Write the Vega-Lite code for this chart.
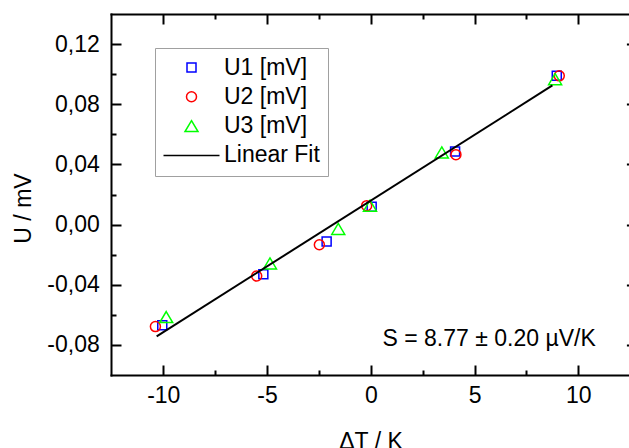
{
  "$schema": "https://vega.github.io/schema/vega-lite/v6.json",
  "width": 518,
  "height": 361,
  "autosize": "none",
  "padding": {"left": 111, "top": 14, "right": 0, "bottom": 73},
  "background": "white",
  "config": {
    "view": {"stroke": null},
    "font": "Liberation Sans",
    "axis": {
      "grid": false,
      "domainColor": "black",
      "domainWidth": 2,
      "domainCap": "square",
      "tickColor": "black",
      "tickWidth": 2,
      "labelFont": "Liberation Sans",
      "labelFontSize": 23,
      "labelColor": "black",
      "titleFont": "Liberation Sans",
      "titleFontSize": 23,
      "titleFontWeight": "normal",
      "titleColor": "black",
      "labelFlush": false,
      "labelOverlap": false
    },
    "legend": {
      "orient": "none",
      "legendX": 44,
      "legendY": 34,
      "title": null,
      "labelFont": "Liberation Sans",
      "labelFontSize": 23,
      "labelColor": "black",
      "symbolSize": 100,
      "symbolStrokeWidth": 1.5,
      "symbolOffset": 17,
      "labelOffset": 21,
      "rowPadding": 5.3,
      "padding": 8,
      "strokeColor": "#a0a0a0",
      "strokeWidth": 1,
      "fillColor": "white"
    }
  },
  "datasets": {
    "pts": [
      {"series": "U1 [mV]", "dT": -10.05, "U": -0.0670},
      {"series": "U1 [mV]", "dT": -5.18, "U": -0.0331},
      {"series": "U1 [mV]", "dT": -2.13, "U": -0.0112},
      {"series": "U1 [mV]", "dT": 0.04, "U": 0.0119},
      {"series": "U1 [mV]", "dT": 4.06, "U": 0.0486},
      {"series": "U1 [mV]", "dT": 8.96, "U": 0.0989},
      {"series": "U2 [mV]", "dT": -10.38, "U": -0.0678},
      {"series": "U2 [mV]", "dT": -5.50, "U": -0.0342},
      {"series": "U2 [mV]", "dT": -2.48, "U": -0.0134},
      {"series": "U2 [mV]", "dT": -0.20, "U": 0.0126},
      {"series": "U2 [mV]", "dT": 4.10, "U": 0.0465},
      {"series": "U2 [mV]", "dT": 9.08, "U": 0.0989},
      {"series": "U3 [mV]", "dT": -9.86, "U": -0.0615},
      {"series": "U3 [mV]", "dT": -4.86, "U": -0.0258},
      {"series": "U3 [mV]", "dT": -1.57, "U": -0.0029},
      {"series": "U3 [mV]", "dT": -0.04, "U": 0.0126},
      {"series": "U3 [mV]", "dT": 3.42, "U": 0.0480},
      {"series": "U3 [mV]", "dT": 8.88, "U": 0.0967}
    ],
    "fit": [
      {"dT": -10.32, "U": -0.0743},
      {"dT": 8.75, "U": 0.0925}
    ],
    "ann": [
      {"dT": 5.70, "U": -0.0805, "label": "S = 8.77 ± 0.20 µV/K"}
    ]
  },
  "layer": [
    {
      "data": {"name": "pts"},
      "mark": {"type": "point", "filled": false, "strokeWidth": 1.5, "size": 100, "opacity": 1},
      "encoding": {
        "x": {
          "field": "dT", "type": "quantitative",
          "scale": {"domain": [-12.52, 12.44], "nice": false, "zero": false},
          "axis": {
            "orient": "bottom",
            "values": [-10, -5, 0, 5, 10],
            "tickSize": -10,
            "labelPadding": 19,
            "labelExpr": "datum.value < 0 ? '-' + format(-datum.value, 'd') : format(datum.value, 'd')",
            "title": "ΔT / K",
            "titleX": 259.5,
            "titleY": 73.2,
            "titleAlign": "center",
            "titleBaseline": "alphabetic"
          }
        },
        "y": {
          "field": "U", "type": "quantitative",
          "scale": {"domain": [-0.10, 0.14], "nice": false, "zero": false},
          "axis": {
            "orient": "left",
            "values": [-0.08, -0.04, 0, 0.04, 0.08, 0.12],
            "tickSize": -10,
            "labelPadding": 21.7,
            "labelExpr": "datum.value < 0 ? '-' + replace(format(-datum.value, '.2f'), '.', ',') : replace(format(datum.value, '.2f'), '.', ',')",
            "title": "U / mV",
            "titleAngle": -90,
            "titleX": -80.5,
            "titleY": 194,
            "titleAlign": "center",
            "titleBaseline": "alphabetic"
          }
        },
        "color": {
          "field": "series", "type": "nominal",
          "scale": {"domain": ["U1 [mV]", "U2 [mV]", "U3 [mV]", "Linear Fit"], "range": ["#0000ff", "#ff0000", "#00ff00", "#000000"]},
          "legend": {}
        },
        "shape": {
          "field": "series", "type": "nominal",
          "scale": {"domain": ["U1 [mV]", "U2 [mV]", "U3 [mV]", "Linear Fit"], "range": ["M-0.9,-0.9H0.9V0.9H-0.9Z", "circle", "M0,-1.1L1.3,1.1L-1.3,1.1Z", "M-5.6,0H5.6"]}
        }
      }
    },
    {
      "data": {"name": "fit"},
      "mark": {"type": "line", "color": "black", "strokeWidth": 2},
      "encoding": {
        "x": {
          "field": "dT", "type": "quantitative",
          "scale": {"domain": [-12.52, 12.44], "nice": false, "zero": false},
          "axis": {"orient": "bottom", "values": [-7.5, -2.5, 2.5, 7.5], "tickSize": -5, "labels": false, "domain": false, "title": null}
        },
        "y": {
          "field": "U", "type": "quantitative",
          "scale": {"domain": [-0.10, 0.14], "nice": false, "zero": false},
          "axis": {"orient": "left", "values": [-0.06, -0.02, 0.02, 0.06, 0.10], "tickSize": -5, "labels": false, "domain": false, "title": null}
        }
      }
    },
    {
      "data": {"name": "ann"},
      "mark": {"type": "text", "font": "Liberation Sans", "fontSize": 23, "color": "black", "align": "center", "baseline": "alphabetic"},
      "encoding": {
        "x": {
          "field": "dT", "type": "quantitative",
          "scale": {"domain": [-12.52, 12.44], "nice": false, "zero": false},
          "axis": {"orient": "top", "values": [-10, -5, 0, 5, 10], "tickSize": -10, "labels": false, "title": null}
        },
        "y": {
          "field": "U", "type": "quantitative",
          "scale": {"domain": [-0.10, 0.14], "nice": false, "zero": false},
          "axis": {"orient": "right", "offset": 7.4, "values": [-0.08, -0.04, 0, 0.04, 0.08, 0.12], "tickSize": -10, "labels": false, "title": null}
        },
        "text": {"field": "label", "type": "nominal"}
      }
    },
    {
      "data": {"name": "fit"},
      "mark": {"type": "point", "opacity": 0},
      "encoding": {
        "x": {
          "field": "dT", "type": "quantitative",
          "scale": {"domain": [-12.52, 12.44], "nice": false, "zero": false},
          "axis": {"orient": "top", "values": [-7.5, -2.5, 2.5, 7.5], "tickSize": -5, "labels": false, "domain": false, "title": null}
        },
        "y": {
          "field": "U", "type": "quantitative",
          "scale": {"domain": [-0.10, 0.14], "nice": false, "zero": false},
          "axis": null
        }
      }
    }
  ],
  "resolve": {"axis": {"x": "independent", "y": "independent"}}
}
